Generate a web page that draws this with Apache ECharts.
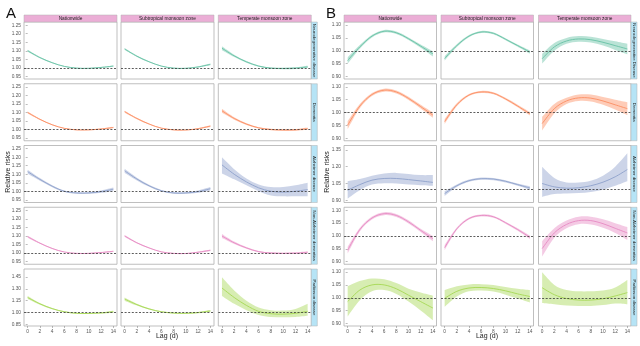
<!DOCTYPE html>
<html>
<head>
<meta charset="utf-8">
<script src="https://cdn.jsdelivr.net/npm/echarts@6/dist/echarts.min.js"></script>
<style>
html,body{margin:0;padding:0;background:#fff}
#main{width:640px;height:346px}
</style>
</head>
<body>
<div id="main"></div>
<script>
// Lag days at which the exposure-response estimates are drawn
const lags = [0, 2, 4, 6, 8, 10, 12, 14];
const xTicks = [0, 2, 4, 6, 8, 10, 12, 14];
const regions = ['Nationwide', 'Subtropical monsoon zone', 'Temperate monsoon zone'];
const diseasesA = ['Neurodegenerative disease', 'Dementia', 'Alzheimer disease', 'Non-Alzheimer dementias', 'Parkinson disease'];
const diseasesB = ['Neurodegenerative Disease', 'Dementia', 'Alzheimer disease', 'Non-Alzheimer dementias', 'Parkinson disease'];
const diseaseColors = ['#66C2A5', '#FC8D62', '#8DA0CB', '#E78AC3', '#A6D854'];

// y tick labels
const yTicksA = [0.95, 1.00, 1.05, 1.10, 1.15, 1.20, 1.25];
const yTicksAPark = [0.85, 1.00, 1.15, 1.30, 1.45];
const yTicksB = [0.90, 0.95, 1.00, 1.05, 1.10];
const yTicksBAlz = [0.90, 1.05, 1.20, 1.35];

// ---- Panel A: relative risks [Nationwide, Subtropical, Temperate] ----
const aNeuroRR = [[1.100,1.060,1.030,1.008,0.998,0.997,1.002,1.010],[1.110,1.068,1.035,1.010,0.998,0.997,1.005,1.020],[1.115,1.070,1.035,1.010,0.998,0.996,0.998,1.005]];
const aNeuroLo = [[1.094,1.056,1.027,1.006,0.996,0.995,0.999,1.006],[1.104,1.064,1.032,1.008,0.996,0.995,1.002,1.015],[1.103,1.063,1.030,1.006,0.994,0.992,0.993,0.998]];
const aNeuroHi = [[1.106,1.064,1.033,1.010,1.000,0.999,1.005,1.014],[1.116,1.072,1.038,1.012,1.000,0.999,1.008,1.025],[1.127,1.077,1.040,1.014,1.002,1.000,1.003,1.012]];

const aDemRR = [[1.100,1.060,1.028,1.007,0.998,0.998,1.003,1.012],[1.105,1.065,1.032,1.008,0.998,0.997,1.005,1.020],[1.110,1.065,1.032,1.010,1.000,0.997,0.998,1.005]];
const aDemLo = [[1.094,1.056,1.025,1.005,0.996,0.996,1.000,1.008],[1.099,1.061,1.029,1.006,0.996,0.995,1.002,1.015],[1.098,1.058,1.027,1.006,0.996,0.993,0.993,0.998]];
const aDemHi = [[1.106,1.064,1.031,1.009,1.000,1.000,1.006,1.016],[1.111,1.069,1.035,1.010,1.000,0.999,1.008,1.025],[1.122,1.072,1.037,1.014,1.004,1.001,1.003,1.012]];

const aAlzRR = [[1.115,1.070,1.030,1.000,0.990,0.990,0.998,1.012],[1.120,1.072,1.032,1.003,0.990,0.990,0.998,1.015],[1.155,1.100,1.055,1.020,1.000,0.995,1.000,1.010]];
const aAlzLo = [[1.103,1.062,1.024,0.995,0.985,0.985,0.991,1.002],[1.108,1.064,1.026,0.998,0.985,0.985,0.991,1.005],[1.105,1.070,1.035,1.000,0.975,0.970,0.970,0.970]];
const aAlzHi = [[1.127,1.078,1.036,1.005,0.995,0.995,1.005,1.022],[1.132,1.080,1.038,1.008,0.995,0.995,1.005,1.025],[1.200,1.130,1.075,1.040,1.025,1.025,1.035,1.050]];

const aNadRR = [[1.096,1.058,1.027,1.006,0.998,0.998,1.003,1.010],[1.100,1.060,1.030,1.007,0.998,0.997,1.005,1.016],[1.100,1.060,1.030,1.008,1.000,0.998,0.999,1.004]];
const aNadLo = [[1.090,1.054,1.024,1.004,0.996,0.996,1.000,1.006],[1.094,1.056,1.027,1.005,0.996,0.995,1.002,1.011],[1.088,1.053,1.025,1.004,0.996,0.994,0.994,0.997]];
const aNadHi = [[1.102,1.062,1.030,1.008,1.000,1.000,1.006,1.014],[1.106,1.064,1.033,1.009,1.000,0.999,1.008,1.021],[1.112,1.067,1.035,1.012,1.004,1.002,1.004,1.011]];

const aParkRR = [[1.190,1.110,1.050,1.010,0.990,0.988,0.995,1.010],[1.170,1.100,1.045,1.010,0.993,0.990,1.000,1.020],[1.310,1.190,1.090,1.015,0.985,0.980,0.990,1.016]];
const aParkLo = [[1.170,1.098,1.042,1.004,0.984,0.982,0.987,0.998],[1.150,1.088,1.037,1.004,0.987,0.984,0.992,1.008],[1.210,1.110,1.030,0.970,0.945,0.940,0.945,0.960]];
const aParkHi = [[1.210,1.122,1.058,1.016,0.996,0.994,1.003,1.022],[1.190,1.112,1.053,1.016,0.999,0.996,1.008,1.032],[1.445,1.280,1.150,1.065,1.030,1.025,1.045,1.110]];

// ---- Panel B ----
const bNeuroRR = [[0.962,1.015,1.057,1.076,1.070,1.047,1.018,0.988],[0.970,1.020,1.057,1.073,1.068,1.045,1.020,0.995],[0.969,1.015,1.038,1.046,1.043,1.033,1.020,1.007]];
const bNeuroLo = [[0.950,1.008,1.052,1.071,1.065,1.042,1.012,0.978],[0.962,1.015,1.053,1.069,1.064,1.041,1.016,0.989],[0.950,1.000,1.027,1.035,1.032,1.020,1.003,0.986]];
const bNeuroHi = [[0.974,1.022,1.062,1.081,1.075,1.052,1.024,0.998],[0.978,1.025,1.061,1.077,1.072,1.049,1.024,1.001],[0.988,1.030,1.050,1.057,1.055,1.046,1.037,1.027]];

const bDemRR = [[0.951,1.025,1.070,1.087,1.080,1.055,1.023,0.990],[0.965,1.030,1.068,1.080,1.075,1.053,1.025,0.995],[0.957,1.015,1.045,1.057,1.056,1.045,1.030,1.015]];
const bDemLo = [[0.936,1.017,1.064,1.081,1.074,1.049,1.016,0.980],[0.955,1.024,1.064,1.076,1.071,1.049,1.020,0.988],[0.930,0.997,1.033,1.045,1.043,1.030,1.012,0.990]];
const bDemHi = [[0.966,1.033,1.076,1.093,1.086,1.061,1.030,1.000],[0.975,1.036,1.072,1.084,1.079,1.057,1.030,1.002],[0.983,1.033,1.057,1.070,1.070,1.060,1.050,1.040]];

const bAlzRR = [[0.990,1.040,1.080,1.095,1.095,1.085,1.073,1.060],[0.960,1.030,1.075,1.093,1.090,1.070,1.040,1.010],[1.050,1.020,1.008,1.012,1.030,1.062,1.110,1.175]];
const bAlzLo = [[0.915,0.990,1.040,1.052,1.050,1.040,1.035,1.030],[0.938,1.018,1.065,1.083,1.080,1.060,1.030,0.995],[0.930,0.955,0.960,0.965,0.975,0.995,1.030,1.070]];
const bAlzHi = [[1.070,1.090,1.120,1.140,1.145,1.135,1.125,1.125],[0.982,1.042,1.085,1.103,1.100,1.080,1.050,1.025],[1.200,1.100,1.060,1.060,1.075,1.120,1.200,1.320]];

const bNadRR = [[0.945,1.025,1.070,1.087,1.080,1.055,1.022,0.990],[0.955,1.028,1.068,1.080,1.075,1.052,1.025,0.995],[0.951,1.012,1.045,1.060,1.060,1.048,1.030,1.012]];
const bNadLo = [[0.932,1.018,1.064,1.081,1.074,1.049,1.016,0.980],[0.945,1.023,1.064,1.076,1.071,1.048,1.020,0.988],[0.920,0.993,1.030,1.046,1.045,1.032,1.012,0.985]];
const bNadHi = [[0.958,1.032,1.076,1.093,1.086,1.061,1.028,1.000],[0.965,1.033,1.072,1.084,1.079,1.056,1.030,1.002],[0.980,1.030,1.060,1.075,1.075,1.065,1.050,1.035]];

const bParkRR = [[0.985,1.030,1.050,1.050,1.035,1.010,0.985,0.960],[0.998,1.025,1.038,1.040,1.036,1.027,1.015,1.005],[1.039,1.012,0.997,0.991,0.991,0.996,1.007,1.020]];
const bParkLo = [[0.927,0.990,1.025,1.030,1.015,0.985,0.950,0.912],[0.965,1.005,1.025,1.028,1.024,1.012,0.997,0.982],[0.980,0.975,0.970,0.968,0.968,0.972,0.978,0.975]];
const bParkHi = [[1.045,1.065,1.075,1.072,1.057,1.035,1.020,1.008],[1.030,1.045,1.052,1.053,1.050,1.042,1.035,1.030],[1.099,1.050,1.030,1.025,1.025,1.028,1.040,1.069]];

// ---- layout of the facet panels ----
const FONT = '"Liberation Sans", Arial, Helvetica, sans-serif';
const rowTops = [22, 83.75, 145.5, 207.25, 269];
const rowH = 57;
const panels = [
  {
    letter: 'A', letterX: 6, colLefts: [24, 121, 218.3], colW: 93, stripX: 311.3,
    diseases: diseasesA,
    rows: [
      {rr: aNeuroRR, lo: aNeuroLo, hi: aNeuroHi, min: 0.934, max: 1.269, ticks: yTicksA},
      {rr: aDemRR, lo: aDemLo, hi: aDemHi, min: 0.934, max: 1.269, ticks: yTicksA},
      {rr: aAlzRR, lo: aAlzLo, hi: aAlzHi, min: 0.934, max: 1.269, ticks: yTicksA},
      {rr: aNadRR, lo: aNadLo, hi: aNadHi, min: 0.934, max: 1.269, ticks: yTicksA},
      {rr: aParkRR, lo: aParkLo, hi: aParkHi, min: 0.83, max: 1.55, ticks: yTicksAPark}
    ],
    yTitleX: 8, xTitleX: 167
  },
  {
    letter: 'B', letterX: 326, colLefts: [344, 441, 538.5], colW: 92.5, stripX: 631,
    diseases: diseasesB,
    rows: [
      {rr: bNeuroRR, lo: bNeuroLo, hi: bNeuroHi, min: 0.89, max: 1.112, ticks: yTicksB},
      {rr: bDemRR, lo: bDemLo, hi: bDemHi, min: 0.89, max: 1.112, ticks: yTicksB},
      {rr: bAlzRR, lo: bAlzLo, hi: bAlzHi, min: 0.88, max: 1.39, ticks: yTicksBAlz},
      {rr: bNadRR, lo: bNadLo, hi: bNadHi, min: 0.89, max: 1.112, ticks: yTicksB},
      {rr: bParkRR, lo: bParkLo, hi: bParkHi, min: 0.89, max: 1.112, ticks: yTicksB}
    ],
    yTitleX: 327, xTitleX: 487
  }
];

function hexAlpha(hex, a) {
  const n = parseInt(hex.slice(1), 16);
  return 'rgba(' + (n >> 16) + ',' + ((n >> 8) & 255) + ',' + (n & 255) + ',' + a + ')';
}

// Catmull-Rom spline through pixel points, as SVG path commands
function splinePath(pts, start) {
  let d = (start ? 'M' : 'L') + pts[0][0] + ' ' + pts[0][1];
  for (let i = 0; i < pts.length - 1; i++) {
    const p0 = pts[i - 1] || pts[i], p1 = pts[i], p2 = pts[i + 1], p3 = pts[i + 2] || pts[i + 1];
    const c1x = p1[0] + (p2[0] - p0[0]) / 6, c1y = p1[1] + (p2[1] - p0[1]) / 6;
    const c2x = p2[0] - (p3[0] - p1[0]) / 6, c2y = p2[1] - (p3[1] - p1[1]) / 6;
    d += 'C' + c1x + ' ' + c1y + ' ' + c2x + ' ' + c2y + ' ' + p2[0] + ' ' + p2[1];
  }
  return d;
}

const grid = [], xAxis = [], yAxis = [], series = [], graphic = [];
let g = 0;

panels.forEach(p => {
  // panel letter
  graphic.push({type: 'text', left: p.letterX, top: 6, style: {text: p.letter, font: '15px ' + FONT, fill: '#111'}});
  // top facet strips
  p.colLefts.forEach((left, c) => {
    graphic.push({type: 'rect', shape: {x: left, y: 15, width: p.colW, height: 7},
      style: {fill: '#EBAED6', stroke: '#B0B0B0', lineWidth: 0.5}, z: 10});
    graphic.push({type: 'text', x: left + p.colW / 2, y: 18.7, z: 11,
      style: {text: regions[c], font: '4.8px ' + FONT, fill: '#222', align: 'center', verticalAlign: 'middle'}});
  });
  // right facet strips
  rowTops.forEach((top, r) => {
    graphic.push({type: 'rect', shape: {x: p.stripX, y: top, width: 6, height: rowH},
      style: {fill: '#B6E4F6', stroke: '#B0B0B0', lineWidth: 0.5}, z: 10});
    graphic.push({type: 'text', x: p.stripX + 3, y: top + rowH / 2, rotation: -Math.PI / 2, z: 11,
      style: {text: p.diseases[r], font: '4.4px ' + FONT, fill: '#222', align: 'center', verticalAlign: 'middle'}});
  });
  // axis titles
  graphic.push({type: 'text', x: p.yTitleX, y: 172, rotation: Math.PI / 2,
    style: {text: 'Relative risks', font: '7px ' + FONT, fill: '#222', align: 'center', verticalAlign: 'middle'}});
  graphic.push({type: 'text', x: p.xTitleX, y: 336,
    style: {text: 'Lag (d)', font: '7px ' + FONT, fill: '#222', align: 'center', verticalAlign: 'middle'}});

  p.rows.forEach((row, r) => {
    const color = diseaseColors[r];
    p.colLefts.forEach((left, c) => {
      grid.push({left: left, top: rowTops[r], width: p.colW, height: rowH, show: true,
        borderColor: '#AFAFAF', borderWidth: 0.8, backgroundColor: '#fff'});
      const bottom = r === 4;
      xAxis.push({gridIndex: g, type: 'value', min: -0.6, max: 14.6,
        axisLine: {show: false}, splitLine: {show: false},
        axisTick: {show: bottom, customValues: xTicks, length: 2, lineStyle: {color: '#777', width: 0.5}},
        axisLabel: {show: bottom, customValues: xTicks, fontSize: 4.8, color: '#555', margin: 3, fontFamily: FONT}});
      yAxis.push({gridIndex: g, type: 'value', min: row.min, max: row.max,
        axisLine: {show: false}, splitLine: {show: false},
        axisTick: {show: c === 0, customValues: row.ticks, length: 2, lineStyle: {color: '#777', width: 0.5}},
        axisLabel: {show: c === 0, customValues: row.ticks, fontSize: 4.8, color: '#555', margin: 3, fontFamily: FONT,
          formatter: v => v.toFixed(2)}});
      const rr = row.rr[c], lo = row.lo[c], hi = row.hi[c];
      // confidence band + central estimate, positioned through the axis scales
      series.push({
        type: 'custom', xAxisIndex: g, yAxisIndex: g, silent: true,
        data: lags.map((x, i) => [x, rr[i], lo[i], hi[i]]),
        encode: {x: 0, y: 1},
        renderItem: (params, api) => {
          if (params.dataIndex !== 0) return null;
          const up = lags.map((x, i) => api.coord([x, hi[i]]));
          const dn = lags.map((x, i) => api.coord([x, lo[i]])).reverse();
          const mid = lags.map((x, i) => api.coord([x, rr[i]]));
          return {
            type: 'group',
            children: [
              {type: 'path', shape: {pathData: splinePath(up, true) + splinePath(dn, false) + 'Z'},
                style: {fill: hexAlpha(color, 0.45), stroke: null}},
              {type: 'path', shape: {pathData: splinePath(mid, true)},
                style: {fill: null, stroke: color, lineWidth: 0.9}}
            ]
          };
        },
        markLine: {silent: true, symbol: 'none', label: {show: false}, animation: false,
          lineStyle: {type: [2, 1.6], color: '#333', width: 0.8}, data: [{yAxis: 1}]}
      });
      g++;
    });
  });
});

const chart = echarts.init(document.getElementById('main'), null, {renderer: 'canvas'});
chart.setOption({
  animation: false,
  backgroundColor: '#fff',
  textStyle: {fontFamily: FONT},
  grid, xAxis, yAxis, series, graphic
});
</script>
</body>
</html>
